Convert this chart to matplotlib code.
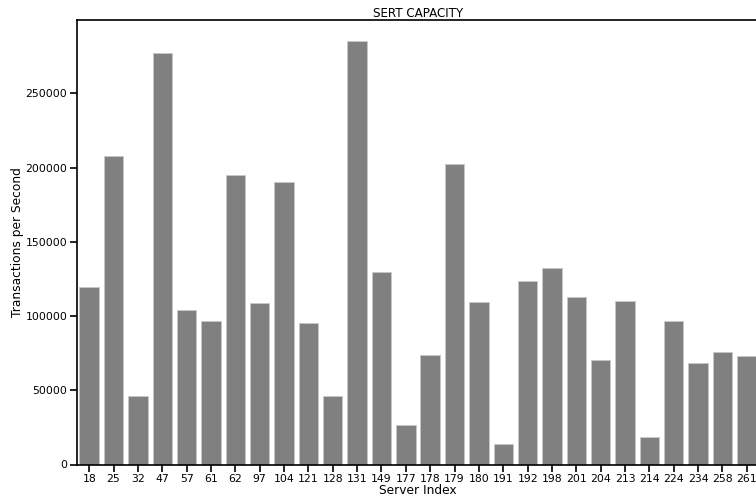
import matplotlib
matplotlib.use("Agg")
import matplotlib.pyplot as plt

# server indices and SERT capacity (transactions per second)
servers = ["18", "25", "32", "47", "57", "61", "62", "97", "104", "121",
           "128", "131", "149", "177", "178", "179", "180", "191", "192", "198",
           "201", "204", "213", "214", "224", "234", "258", "261"]
tps = [119900, 207700, 46300, 277200, 104100, 96900, 194800, 109100, 190100, 95600,
       46300, 285200, 130000, 26700, 73900, 202300, 109700, 13800, 123900, 132700,
       113100, 70600, 110400, 18400, 96900, 68100, 75500, 72800]

fs = 7.8
fig = plt.figure(figsize=(7.56, 4.97), dpi=100)
ax = fig.add_axes([77/756, 32.5/497, 682/756, 444.5/497])

ax.bar(servers, tps, width=0.8, color="#808080", edgecolor="#c8c8c8", linewidth=0.6)
ax.set_xlim(-0.5, len(servers) - 0.5)
ax.set_ylim(0, max(tps) * 1.05)

ax.set_title("SERT CAPACITY", fontsize=8.6, pad=2)
ax.set_xlabel("Server Index", fontsize=8.8, labelpad=0)
ax.set_ylabel("Transactions per Second", fontsize=8.8, labelpad=1)
ax.tick_params(axis="both", labelsize=fs, length=5, width=1.2, pad=2)
for s in ax.spines.values():
    s.set_linewidth(1.2)

fig.savefig("out.png", dpi=100)
